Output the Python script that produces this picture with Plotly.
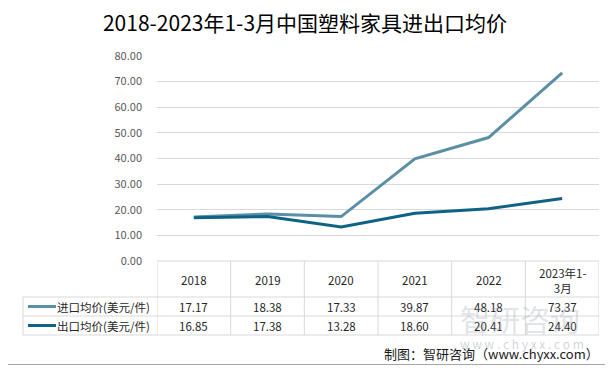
import plotly.graph_objects as go

categories = ["2018", "2019", "2020", "2021", "2022", "2023年1-3月"]
header_labels = ["2018", "2019", "2020", "2021", "2022", "2023年1-<br>3月"]
import_price = [17.17, 18.38, 17.33, 39.87, 48.18, 73.37]
export_price = [16.85, 17.38, 13.28, 18.60, 20.41, 24.40]
series_names = ["进口均价(美元/件)", "出口均价(美元/件)"]
y_ticks = [0, 10, 20, 30, 40, 50, 60, 70, 80]

OFF = 8  # page body margin
W, H = 613 - OFF, 370 - OFF
L, R, T, B = 157 - OFF, 599 - OFF, 56 - OFF, 261 - OFF  # plot area in figure pixels

def px(x):
    return (x - OFF - L) / (R - L)

def py(y):
    return (B - (y - OFF)) / (B - T)

c_imp = "#5B8FA6"
c_exp = "#0E6384"
grid = "#D9D9D9"
txt = "#262626"
font = "Noto Sans CJK SC"

fig = go.Figure()
fig.add_trace(go.Scatter(x=categories, y=import_price, mode="lines", name=series_names[0],
                         line=dict(color=c_imp, width=3)))
fig.add_trace(go.Scatter(x=categories, y=export_price, mode="lines", name=series_names[1],
                         line=dict(color=c_exp, width=3)))

shapes = []
ann = []

# outer border
shapes.append(dict(type="rect", xref="paper", yref="paper", x0=px(2.5), x1=px(608.5), y0=py(2.5), y1=py(364.5),
                   line=dict(color="#A6A6A6", width=1), layer="below"))

# table geometry
rows = [261, 297, 316, 335]
left_tbl = 23
lw = dict(color=grid, width=1)
shapes.append(dict(type="line", xref="paper", yref="paper", x0=0, x1=1, y0=py(rows[0]), y1=py(rows[0]), line=lw))
for r in rows[1:]:
    shapes.append(dict(type="line", xref="paper", yref="paper", x0=px(left_tbl), x1=1, y0=py(r), y1=py(r), line=lw))
n = len(categories)
for i in range(n + 1):
    shapes.append(dict(type="line", xref="x", yref="paper", x0=i - 0.5, x1=i - 0.5,
                       y0=py(rows[0]), y1=py(rows[3]), line=lw))
shapes.append(dict(type="line", xref="paper", yref="paper", x0=px(left_tbl), x1=px(left_tbl),
                   y0=py(rows[1]), y1=py(rows[3]), line=lw))

# header labels
for i, h in enumerate(header_labels):
    ann.append(dict(x=i, xref="x", y=py((rows[0] + rows[1]) / 2 + 1), yref="paper", text=h, showarrow=False,
                    font=dict(family=font, size=11.5, color=txt), xanchor="center", yanchor="middle"))

# data rows
for ri, (vals, col, name) in enumerate([(import_price, c_imp, series_names[0]), (export_price, c_exp, series_names[1])]):
    yc = (rows[ri + 1] + rows[ri + 2]) / 2
    for i, v in enumerate(vals):
        ann.append(dict(x=i, xref="x", y=py(yc), yref="paper", text=f"{v:.2f}", showarrow=False,
                        font=dict(family=font, size=11.5, color=txt), xanchor="center", yanchor="middle"))
    shapes.append(dict(type="line", xref="paper", yref="paper", x0=px(28), x1=px(56), y0=py(yc), y1=py(yc),
                       line=dict(color=col, width=3)))
    ann.append(dict(x=px(55), xref="paper", y=py(yc), yref="paper", text=name, showarrow=False,
                    font=dict(family=font, size=11.5, color=txt), xanchor="left", yanchor="middle"))

# watermark
ann.append(dict(x=px(520), xref="paper", y=py(318), yref="paper", text="智研咨询", showarrow=False,
                font=dict(family=font, size=30, color="rgba(150,160,175,0.30)"), xanchor="center", yanchor="middle"))
ann.append(dict(x=px(522), xref="paper", y=py(343), yref="paper", text="w w w . c h y x x . c o m", showarrow=False,
                font=dict(family=font, size=12, color="rgba(150,160,175,0.45)"), xanchor="center", yanchor="middle"))
# source
ann.append(dict(x=px(601), xref="paper", y=py(353), yref="paper", text="制图：智研咨询（www.chyxx.com）", showarrow=False,
                font=dict(family=font, size=13, color="#1a1a1a"), xanchor="right", yanchor="middle"))

fig.update_layout(
    width=W, height=H, autosize=False,
    margin=dict(l=L, r=W - R, t=T, b=H - B, pad=0),
    paper_bgcolor="white", plot_bgcolor="white",
    showlegend=False,
    title=dict(text="2018-2023年1-3月中国塑料家具进出口均价", x=(305 - OFF) / W, xref="container", xanchor="center",
               y=1 - (24 - OFF) / H, yref="container", yanchor="middle",
               font=dict(family=font, size=21, color="#000000")),
    xaxis=dict(type="category", range=[-0.5, n - 0.5], showticklabels=False, showgrid=False,
               zeroline=False, showline=False, ticks=""),
    yaxis=dict(range=[0, 80], tickvals=y_ticks, tickformat=".2f", showgrid=True, gridcolor=grid, gridwidth=1,
               zeroline=False, showline=False, ticks="", ticklabelstandoff=14,
               tickfont=dict(family=font, size=11, color="#595959")),
    shapes=shapes, annotations=ann,
)

fig.write_html("out.html")
